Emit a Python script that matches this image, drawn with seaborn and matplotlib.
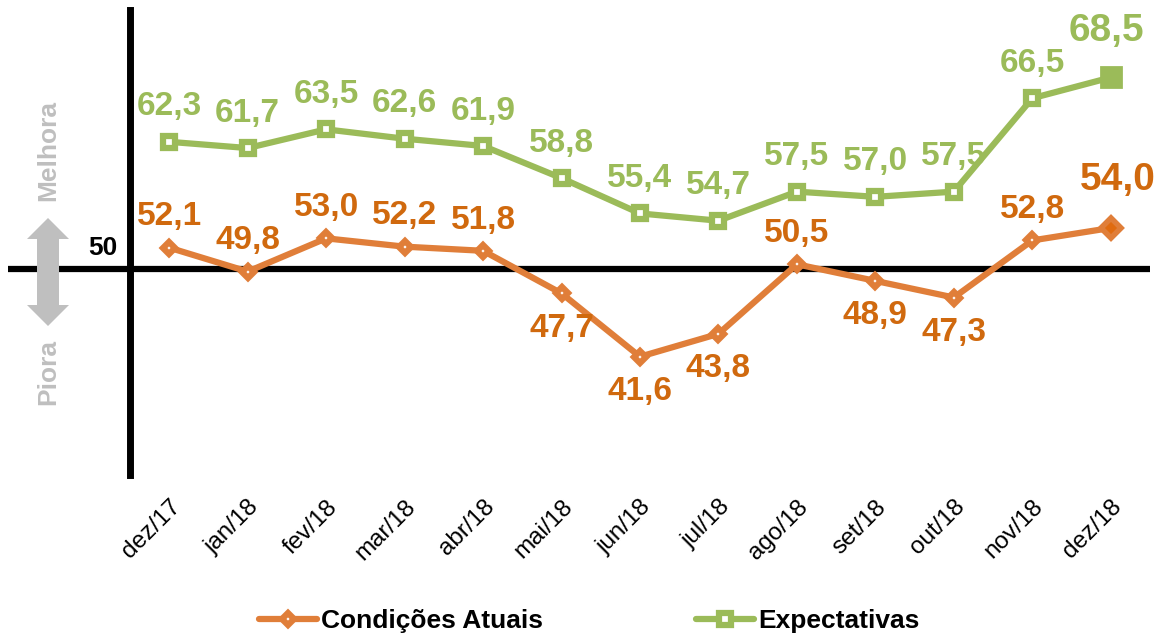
import matplotlib
matplotlib.use("Agg")
import matplotlib.pyplot as plt
import matplotlib.patches as mpatches
import matplotlib.transforms as mtransforms
import seaborn as sns
import pandas as pd

months = ['dez/17', 'jan/18', 'fev/18', 'mar/18', 'abr/18', 'mai/18', 'jun/18',
          'jul/18', 'ago/18', 'set/18', 'out/18', 'nov/18', 'dez/18']
atuais = [52.1, 49.8, 53.0, 52.2, 51.8, 47.7, 41.6, 43.8, 50.5, 48.9, 47.3, 52.8, 54.0]
expect = [62.3, 61.7, 63.5, 62.6, 61.9, 58.8, 55.4, 54.7, 57.5, 57.0, 57.5, 66.5, 68.5]
atuais_below = [False, False, False, False, False, True, True, True, False, True, True, False, False]
series_names = ['Condições Atuais', 'Expectativas']
ref_value = 50

ORANGE = '#E07E39'
ORANGE_TXT = '#D0690E'
GREEN = '#9BBB59'
GRAY = '#BFBFBF'

sns.set_theme(style='white')
plt.rcParams['font.family'] = ['Liberation Sans', 'DejaVu Sans']

fig = plt.figure(figsize=(11.55, 6.36), dpi=100)
ax = fig.add_axes([130/1155, 1-475/636, (1150-130)/1155, (475-10)/636])

df = pd.DataFrame({'mes': months, 'atuais': atuais, 'expect': expect})
df['x'] = range(len(df))

sty_a = dict(color=ORANGE, lw=4.5, marker='D', markersize=6.5, markerfacecolor='white',
             markeredgecolor=ORANGE, markeredgewidth=4.5)
sty_e = dict(color=GREEN, lw=4.5, marker='s', markersize=9, markerfacecolor='white',
             markeredgecolor=GREEN, markeredgewidth=4.5)

sns.lineplot(data=df, x='x', y='atuais', ax=ax, label=series_names[0],
             legend=False, **sty_a)
sns.lineplot(data=df, x='x', y='expect', ax=ax, label=series_names[1],
             legend=False, **sty_e)

# emphasised final points
last = len(months) - 1
ax.plot(df['x'].iloc[last], expect[last], marker='s', markersize=15,
        color=GREEN, mec=GREEN, mew=2, zorder=5)
ax.plot(df['x'].iloc[last], atuais[last], marker='D', markersize=10,
        color='#E06B10', mec=ORANGE, mew=4, zorder=5)

ax.set_xlim(-0.5, len(months) - 0.5)
ax.set_ylim(30.2, 75.0)

# data labels
for i, v in enumerate(expect):
    big = i == last
    ax.annotate(f'{v:.1f}'.replace('.', ','), (i, v),
                xytext=(-3 if big else 0, 26 if big else 19), textcoords='offset points',
                ha='center', va='baseline', color=GREEN, fontweight='bold',
                fontsize=28 if big else 24)
for i, v in enumerate(atuais):
    big = i == last
    txt = f'{v:.1f}'.replace('.', ',')
    if atuais_below[i]:
        ax.annotate(txt, (i, v), xytext=(0, -14), textcoords='offset points',
                    ha='center', va='top', color=ORANGE_TXT, fontweight='bold',
                    fontsize=24)
    else:
        ax.annotate(txt, (i, v), xytext=(5 if big else 0, 27 if big else 16),
                    textcoords='offset points', ha='center', va='baseline',
                    color=ORANGE_TXT, fontweight='bold',
                    fontsize=28 if big else 24)

# axes styling
for s in ['top', 'right', 'bottom']:
    ax.spines[s].set_visible(False)
ax.spines['left'].set_color('black')
ax.spines['left'].set_linewidth(5)
ax.set_yticks([])
ax.set_xticks(df['x'])
ax.set_xticklabels(months, rotation=45, ha='right', rotation_mode='anchor',
                   fontsize=17.5, color='black')
ax.tick_params(axis='x', length=0, pad=15)
ax.set_xlabel('')
ax.set_ylabel('')

# reference line at 50
trans = mtransforms.blended_transform_factory(ax.transAxes, ax.transData)
ax.plot([-(130-8)/(1150-130), 1], [ref_value, ref_value], transform=trans,
        color='black', lw=4.5, clip_on=False, zorder=1, solid_capstyle='butt')
ax.text(-0.012, ref_value + 0.9, str(ref_value), transform=trans, ha='right',
        va='bottom', fontsize=19, fontweight='bold', color='black')

# side annotation: double arrow and labels
def fpt(x, y):
    return (x / 1155, 1 - y / 636)

cx = 48
poly = [fpt(cx, 218), fpt(cx + 21, 239), fpt(cx + 11, 239), fpt(cx + 11, 305),
        fpt(cx + 21, 305), fpt(cx, 326), fpt(cx - 21, 305), fpt(cx - 11, 305),
        fpt(cx - 11, 239), fpt(cx - 21, 239)]
fig.patches.append(mpatches.Polygon(poly, closed=True, transform=fig.transFigure,
                                    facecolor=GRAY, edgecolor='none'))
fig.text(*fpt(48, 150), 'Melhora', rotation=90, ha='center', va='center',
         fontsize=19, fontweight='bold', color=GRAY)
fig.text(*fpt(48, 372), 'Piora', rotation=90, ha='center', va='center',
         fontsize=19, fontweight='bold', color=GRAY)

# legend
handles = [plt.Line2D([], [], **sty_a), plt.Line2D([], [], **sty_e)]
leg = fig.legend(handles, series_names, loc='center',
                 bbox_to_anchor=(0.5 + 12/1155, 1 - 621/636),
                 ncol=2, frameon=False, handlelength=2.2, handletextpad=0.15,
                 columnspacing=5.8, labelcolor='black',
                 prop={'weight': 'bold', 'size': 19})

fig.savefig('out.png', dpi=100)
